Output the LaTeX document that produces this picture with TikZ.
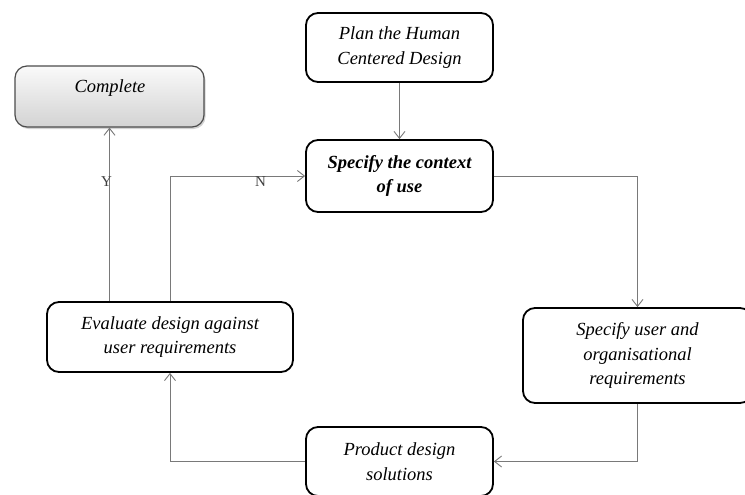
\documentclass[tikz,border=0pt]{standalone}
\usepackage{fontspec}
\setmainfont{Liberation Serif}
\usetikzlibrary{arrows.meta,shadows}
\begin{document}
\begin{tikzpicture}[x=1pt,y=-1pt,
  box/.style={draw=black,line width=1.8pt,rounded corners=12pt,align=center,
    font=\itshape\fontsize{18.5}{24.5}\selectfont,inner sep=0pt},
  donebox/.style={draw=gray!60!black,line width=1.2pt,rounded corners=12pt,
    top color=gray!4,bottom color=gray!35,
    drop shadow={opacity=0.35,shadow xshift=1.5pt,shadow yshift=-2pt}},
  boxtext/.style={font=\itshape\fontsize{18.5}{24.5}\selectfont,inner sep=0pt},
  conn/.style={draw=gray!95!black,line width=0.9pt,-{Straight Barb[length=7pt,width=11pt]}},
  lbl/.style={font=\fontsize{15}{15}\selectfont,text=black!75,inner sep=0pt}
]
\useasboundingbox (0,0) rectangle (745,495);
\fill[white] (0,0) rectangle (745,495);

\node[box,minimum width=187pt,minimum height=69pt] (plan) at (399.5,47.5) {Plan the Human\\Centered Design};
\node[box,font=\bfseries\itshape\fontsize{18.5}{24.5}\selectfont,minimum width=187pt,minimum height=72pt] (context) at (399.5,176) {Specify the context\\of use};
\node[box,minimum width=246pt,minimum height=70pt] (eval) at (170,337) {Evaluate design against\\user requirements};
\node[box,minimum width=229pt,minimum height=95pt] (req) at (637.5,355.5) {Specify user and\\organisational\\requirements};
\node[box,minimum width=187pt,minimum height=69pt] (prod) at (399.5,461.5) {Product design\\solutions};
\node[donebox,minimum width=189pt,minimum height=61pt] (complete) at (109.5,96.5) {};
\node[boxtext] (completetext) at (110,88) {Complete};

\draw[conn] (plan) -- (context);
\draw[conn] (context.east) -| (req.north);
\draw[conn] (req.south) |- (prod.east);
\draw[conn] (prod.west) -| (eval.south);
\draw[conn] (eval.north -| complete.south) -- (complete.south)
  node[lbl,pos=0.686,xshift=-3pt] (ylab) {Y};
\draw[conn] (eval.north) |- (context.west)
  node[lbl,pos=0.835,yshift=-6pt] (nlab) {N};
\end{tikzpicture}
\end{document}
